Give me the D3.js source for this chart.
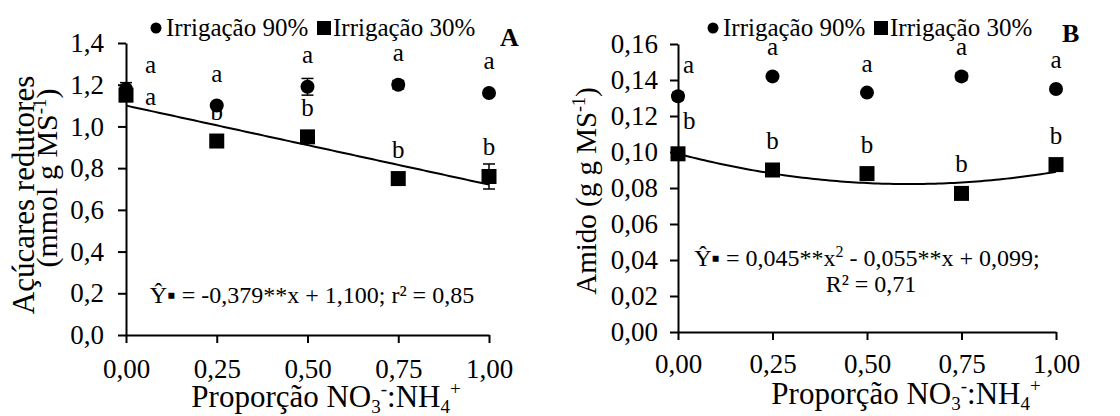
<!DOCTYPE html>
<html>
<head>
<meta charset="utf-8">
<script src="https://cdn.jsdelivr.net/npm/d3@7"></script>
<style>
  html, body { margin: 0; padding: 0; background: #fff; }
  svg { display: block; }
  svg text { font-family: "Liberation Serif", "Times New Roman", serif; fill: #000; }
</style>
</head>
<body>
<svg id="chart" width="1120" height="416"></svg>
<script>
// NO3-:NH4+ proportion levels
const proporcao = [0, 0.25, 0.5, 0.75, 1.0];
const xTickLabels = ["0,00", "0,25", "0,50", "0,75", "1,00"];

// Panel A: reducing sugars (mmol g MS-1)
const acucar90 = [1.18, 1.10, 1.19, 1.20, 1.16];
const acucar90Erro = [0.03, 0.005, 0.04, 0.02, 0.01];
const acucar30 = [1.15, 0.93, 0.95, 0.75, 0.76];
const acucar30Erro = [0.03, 0.01, 0.02, 0.01, 0.06];
const acucar90Letras = ["a", "a", "a", "a", "a"];
const acucar30Letras = ["a", "b", "b", "b", "b"];
const acucarTicks = [0, 0.2, 0.4, 0.6, 0.8, 1.0, 1.2, 1.4];
const acucarTickLabels = ["0,0", "0,2", "0,4", "0,6", "0,8", "1,0", "1,2", "1,4"];
const acucarCoef = { a: -0.379, b: 1.100 };

// Panel B: starch (g g MS-1)
const amido90 = [0.131, 0.142, 0.133, 0.142, 0.135];
const amido90Erro = [0.002, 0.001, 0.001, 0.002, 0.001];
const amido30 = [0.099, 0.090, 0.088, 0.077, 0.093];
const amido30Erro = [0.002, 0.001, 0.001, 0.001, 0.001];
const amido90Letras = ["a", "a", "a", "a", "a"];
const amido30Letras = ["b", "b", "b", "b", "b"];
const amidoTicks = [0, 0.02, 0.04, 0.06, 0.08, 0.10, 0.12, 0.14, 0.16];
const amidoTickLabels = ["0,00", "0,02", "0,04", "0,06", "0,08", "0,10", "0,12", "0,14", "0,16"];
const amidoCoef = { a2: 0.045, a1: -0.055, a0: 0.099 };

const svg = d3.select("#chart");
const FS_TICK = 27, FS_LEG = 25, FS_EQ = 24, FS_TITLE = 31, FS_LET = 25;

function panel(cfg) {
  const g = svg.append("g");
  const x = d3.scaleLinear().domain([0, 1]).range([cfg.x0, cfg.x1]);
  const y = d3.scaleLinear().domain([0, cfg.yMax]).range([cfg.yBottom, cfg.yTop]);

  // axes
  const xAxis = d3.axisBottom(x).tickValues(proporcao)
    .tickFormat((d, i) => xTickLabels[i]).tickSizeInner(8).tickSizeOuter(0).tickPadding(cfg.xPad);
  const gx = g.append("g").attr("transform", `translate(0,${cfg.yBottom})`).call(xAxis);
  const yAxis = d3.axisLeft(y).tickValues(cfg.ticks)
    .tickFormat((d, i) => cfg.tickLabels[i]).tickSizeInner(8).tickSizeOuter(0).tickPadding(cfg.yPad);
  const gy = g.append("g").attr("transform", `translate(${cfg.x0},0)`).call(yAxis);
  [gx, gy].forEach(a => {
    a.attr("font-family", null).attr("font-size", null);
    a.selectAll("path").attr("stroke", "#000").attr("stroke-width", 2);
    a.selectAll("line").attr("stroke", "#000").attr("stroke-width", 2);
    a.selectAll("text").style("font-size", FS_TICK + "px").attr("fill", "#000");
  });

  // fitted curve
  const xs = d3.range(0, 1.0001, 0.01);
  g.append("path")
    .attr("d", d3.line().x(d => x(d)).y(d => y(cfg.fit(d)))(xs))
    .attr("fill", "none").attr("stroke", "#000").attr("stroke-width", 2);

  // error bars
  const drawErr = (vals, errs) => {
    proporcao.forEach((p, i) => {
      const e = errs[i];
      if (!e) return;
      const cx = x(p), yt = y(vals[i] + e), yb = y(vals[i] - e);
      g.append("line").attr("x1", cx).attr("x2", cx).attr("y1", yt).attr("y2", yb)
        .attr("stroke", "#000").attr("stroke-width", 1.5);
      [yt, yb].forEach(yy => g.append("line").attr("x1", cx - 6).attr("x2", cx + 6)
        .attr("y1", yy).attr("y2", yy).attr("stroke", "#000").attr("stroke-width", 1.5));
    });
  };
  drawErr(cfg.v90, cfg.e90);
  drawErr(cfg.v30, cfg.e30);

  // markers
  g.selectAll(".c90").data(cfg.v90).enter().append("circle")
    .attr("cx", (d, i) => x(proporcao[i])).attr("cy", d => y(d)).attr("r", 7).attr("fill", "#000");
  g.selectAll(".s30").data(cfg.v30).enter().append("rect")
    .attr("x", (d, i) => x(proporcao[i]) - 7.5).attr("y", d => y(d) - 7.5)
    .attr("width", 15).attr("height", 15).attr("fill", "#000");

  // significance letters: above the marks, beside the axis for the first level
  proporcao.forEach((p, i) => {
    const first = i === 0;
    const lx = first ? x(p) + cfg.firstDx : x(p);
    const anchor = first ? "start" : "middle";
    g.append("text").attr("x", lx).attr("y", y(cfg.v90[i]) - (first ? cfg.first90Dy : cfg.dy90))
      .attr("text-anchor", anchor).style("font-size", FS_LET + "px").text(cfg.l90[i]);
    g.append("text").attr("x", lx).attr("y", y(cfg.v30[i]) - (first ? cfg.first30Dy : 21))
      .attr("text-anchor", anchor).style("font-size", FS_LET + "px").text(cfg.l30[i]);
  });

  // legend
  const lg = g.append("g");
  lg.append("circle").attr("cx", cfg.legX).attr("cy", 28).attr("r", 5.5).attr("fill", "#000");
  lg.append("text").attr("x", cfg.legX + 10).attr("y", 36).style("font-size", FS_LEG + "px").text("Irrigação 90%");
  lg.append("rect").attr("x", cfg.legX + 161).attr("y", 21).attr("width", 14).attr("height", 14).attr("fill", "#000");
  lg.append("text").attr("x", cfg.legX + 177).attr("y", 36).style("font-size", FS_LEG + "px").text("Irrigação 30%");

  // panel letter
  g.append("text").attr("x", cfg.tagX).attr("y", cfg.tagY).style("font-size", "26px")
    .attr("font-weight", "bold").text(cfg.tag);

  // x title with sub/superscripts
  const xt = g.append("text").attr("x", cfg.xTitleX).attr("y", cfg.xTitleY)
    .attr("text-anchor", "middle").style("font-size", FS_TITLE + "px");
  xt.append("tspan").text("Proporção NO");
  xt.append("tspan").style("font-size", "19px").attr("dy", 6).text("3");
  xt.append("tspan").style("font-size", "19px").attr("dy", -18).text("-");
  xt.append("tspan").attr("dy", 12).text(":NH");
  xt.append("tspan").style("font-size", "19px").attr("dy", 6).text("4");
  xt.append("tspan").style("font-size", "19px").attr("dy", -18).text("+");

  return { g, x, y };
}

// Panel A
const A = panel({
  x0: 126, x1: 489, yTop: 43, yBottom: 335, yMax: 1.4,
  ticks: acucarTicks, tickLabels: acucarTickLabels, yPad: 14, xPad: 16,
  v90: acucar90, e90: acucar90Erro, v30: acucar30, e30: acucar30Erro,
  l90: acucar90Letras, l30: acucar30Letras,
  fit: p => acucarCoef.a * p + acucarCoef.b,
  dy90: 24, firstDx: 19, first90Dy: 16, first30Dy: -10,
  legX: 156, tag: "A", tagX: 500, tagY: 46,
  xTitleX: 326, xTitleY: 407
});

// y title A (two lines)
A.g.append("text").attr("transform", "translate(34,195) rotate(-90)")
  .attr("text-anchor", "middle").style("font-size", FS_TITLE + "px").text("Açúcares redutores");
const ytA2 = A.g.append("text").attr("transform", "translate(57,178) rotate(-90)")
  .attr("text-anchor", "middle").style("font-size", "30px");
ytA2.append("tspan").text("(mmol g MS");
ytA2.append("tspan").style("font-size", "19px").attr("dy", -11).text("-1");
ytA2.append("tspan").attr("dy", 11).text(")");

// equation A
A.g.append("text").attr("x", 312).attr("y", 303).attr("text-anchor", "middle")
  .style("font-size", FS_EQ + "px").text("Ŷ▪ = -0,379**x + 1,100; r² = 0,85");

// Panel B
const B = panel({
  x0: 678, x1: 1056, yTop: 44, yBottom: 332, yMax: 0.16,
  ticks: amidoTicks, tickLabels: amidoTickLabels, yPad: 12, xPad: 14,
  v90: amido90, e90: amido90Erro, v30: amido30, e30: amido30Erro,
  l90: amido90Letras, l30: amido30Letras,
  fit: p => amidoCoef.a2 * p * p + amidoCoef.a1 * p + amidoCoef.a0,
  dy90: 21, firstDx: 5, first90Dy: 23, first30Dy: 25,
  legX: 713, tag: "B", tagX: 1062, tagY: 42,
  xTitleX: 906, xTitleY: 404
});

// y title B
const ytB = B.g.append("text").attr("transform", "translate(596,191) rotate(-90)")
  .attr("text-anchor", "middle").style("font-size", "29px");
ytB.append("tspan").text("Amido (g g MS");
ytB.append("tspan").style("font-size", "18px").attr("dy", -11).text("-1");
ytB.append("tspan").attr("dy", 11).text(")");

// equation B
const eqB = B.g.append("text").attr("x", 867).attr("y", 266).attr("text-anchor", "middle")
  .style("font-size", FS_EQ + "px");
eqB.append("tspan").text("Ŷ▪ = 0,045**x");
eqB.append("tspan").style("font-size", "16px").attr("dy", -9).text("2");
eqB.append("tspan").attr("dy", 9).text(" - 0,055**x + 0,099;");
B.g.append("text").attr("x", 871).attr("y", 292).attr("text-anchor", "middle")
  .style("font-size", FS_EQ + "px").text("R² = 0,71");
</script>
</body>
</html>
